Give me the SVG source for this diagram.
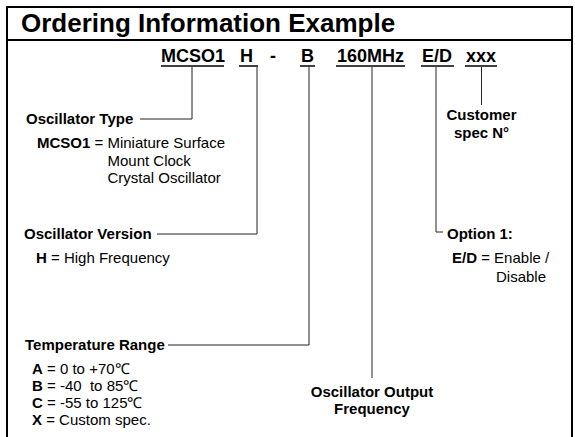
<svg xmlns="http://www.w3.org/2000/svg" width="575" height="437" viewBox="0 0 575 437">
<style>
text{font-family:"Liberation Sans",Arial,sans-serif;fill:#000;white-space:pre}
.t{font-size:26px;font-weight:bold}
.c{font-size:18px;font-weight:bold}
.h{font-size:15px;font-weight:bold}
.r{font-size:15px}
.b{font-weight:bold}
.frame{fill:none;stroke:#000;stroke-width:2}
.ul{stroke:#000;stroke-width:1.5}
.con{fill:none;stroke:#222;stroke-width:1}
</style>
<rect width="575" height="437" fill="#fff"/>
<g id="frame">
<path class="frame" d="M7,437 V7 H572 V437"/>
<line class="frame" x1="7" y1="40" x2="572" y2="40"/>
<text class="t" x="21" y="32">Ordering Information Example</text>
</g>
<g id="code">
<text class="c" x="161" y="62">MCSO1</text>
<text class="c" x="240" y="62">H</text>
<text class="c" x="270" y="62">-</text>
<text class="c" x="301" y="62">B</text>
<text class="c" x="337" y="62">160MHz</text>
<text class="c" x="422" y="62">E/D</text>
<text class="c" x="466" y="62">xxx</text>
<line class="ul" x1="161" y1="66" x2="224" y2="66"/>
<line class="ul" x1="239" y1="66" x2="258" y2="66"/>
<line class="ul" x1="300" y1="66" x2="315" y2="66"/>
<line class="ul" x1="336" y1="66" x2="405" y2="66"/>
<line class="ul" x1="421" y1="66" x2="454" y2="66"/>
<line class="ul" x1="465" y1="66" x2="497" y2="66"/>
</g>
<g id="connectors">
<path class="con" d="M192,67 V119 H140"/>
<path class="con" d="M257,67 V234 H157"/>
<path class="con" d="M309,67 V345 H168"/>
<path class="con" d="M372,67 V378"/>
<path class="con" d="M436,67 V232 H443"/>
<path class="con" d="M481.5,67 V105"/>
</g>
<g id="oscillator-type">
<text class="h" x="26" y="124">Oscillator Type</text>
<text class="r" x="37" y="148"><tspan class="b">MCSO1</tspan> = Miniature Surface</text>
<text class="r" x="107.5" y="165.5">Mount Clock</text>
<text class="r" x="107.5" y="183">Crystal Oscillator</text>
</g>
<g id="oscillator-version">
<text class="h" x="24" y="239">Oscillator Version</text>
<text class="r" x="36" y="263"><tspan class="b">H</tspan> = High Frequency</text>
</g>
<g id="temperature-range">
<text class="h" x="25" y="350">Temperature Range</text>
<text class="r" x="32" y="374"><tspan class="b">A</tspan> = 0 to +70℃</text>
<text class="r" x="32" y="391"><tspan class="b">B</tspan> = -40  to 85℃</text>
<text class="r" x="32" y="407.5"><tspan class="b">C</tspan> = -55 to 125℃</text>
<text class="r" x="32" y="424.5"><tspan class="b">X</tspan> = Custom spec.</text>
</g>
<g id="output-frequency">
<text class="h" x="372" y="397" text-anchor="middle">Oscillator Output</text>
<text class="h" x="372" y="414" text-anchor="middle">Frequency</text>
</g>
<g id="option-1">
<text class="h" x="447" y="239">Option 1:</text>
<text class="r" x="452" y="263"><tspan class="b">E/D</tspan> = Enable /</text>
<text class="r" x="496" y="281.5">Disable</text>
</g>
<g id="customer-spec">
<text class="h" x="481.5" y="120" text-anchor="middle">Customer</text>
<text class="h" x="481.5" y="138" text-anchor="middle">spec N°</text>
</g>
</svg>
